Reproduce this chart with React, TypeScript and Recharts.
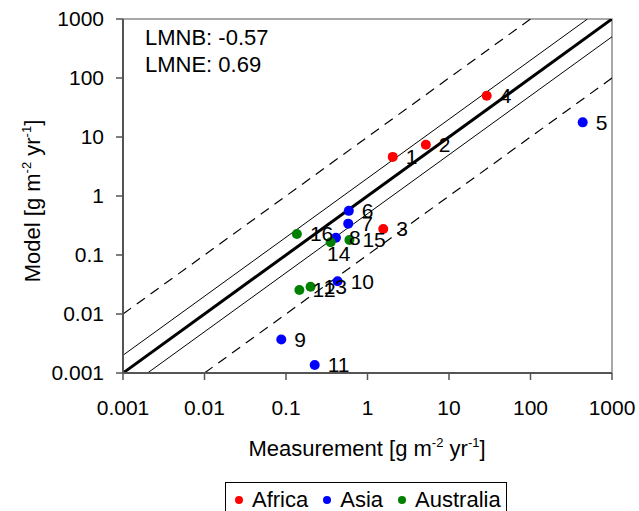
import { ScatterChart, Scatter, XAxis, YAxis, ReferenceLine, ReferenceArea, LabelList, Customized } from "recharts";

const ids = [1, 2, 3, 4, 5, 6, 7, 8, 9, 10, 11, 12, 13, 14, 15, 16];
const measured = [2.04, 5.2, 1.56, 29, 437, 0.59, 0.58, 0.41, 0.0875, 0.43, 0.225, 0.146, 0.2, 0.353, 0.6, 0.136];
const modelled = [4.6, 7.4, 0.276, 50, 17.7, 0.56, 0.34, 0.196, 0.0037, 0.036, 0.00137, 0.0255, 0.029, 0.164, 0.18, 0.227];
const regions = ["Africa", "Africa", "Africa", "Africa", "Asia", "Asia", "Asia", "Asia", "Asia", "Asia", "Asia",
  "Australia", "Australia", "Australia", "Australia", "Australia"];
// point labels drawn under the dot instead of to its right
const labelsBelow = [14];

const groups = ["Africa", "Asia", "Australia"];
const groupColors = ["#ff0000", "#0000ff", "#008000"];

const axisTicks = [0.001, 0.01, 0.1, 1, 10, 100, 1000];
const domainMin = 0.001;
const domainMax = 1000;

// 1:1 line, factor-of-2 lines (thin), factor-of-10 lines (dashed)
const factors = [
  { f: 1, width: 3, dash: "" },
  { f: 2, width: 1, dash: "" },
  { f: 10, width: 1.2, dash: "10 7" },
];

const stats = ["LMNB: -0.57", "LMNE: 0.69"];

const FONT = "'Liberation Sans', Arial, sans-serif";

const points = ids.map((id, i) => ({ id, x: measured[i], y: modelled[i], region: regions[i] }));

function segmentsFor(f: number) {
  if (f === 1) return [[{ x: domainMin, y: domainMin }, { x: domainMax, y: domainMax }]];
  return [
    [{ x: domainMin, y: domainMin * f }, { x: domainMax / f, y: domainMax }],
    [{ x: domainMin * f, y: domainMin }, { x: domainMax, y: domainMax / f }],
  ];
}

const Dot = (props: any) => <circle cx={props.cx} cy={props.cy} r={5} fill={props.fill} />;

const PointLabel = (props: any) => {
  const { x, y, width, height, value } = props;
  const cx = x + width / 2;
  const cy = y + height / 2;
  if (labelsBelow.includes(value)) {
    return (
      <text x={cx + 8} y={cy + 19} textAnchor="middle" fontSize={21} fontFamily={FONT} fill="#000">
        {value}
      </text>
    );
  }
  return (
    <text x={cx + 13} y={cy} dy="0.355em" fontSize={21} fontFamily={FONT} fill="#000">
      {value}
    </text>
  );
};

const Unit = () => (
  <>
    [g m<tspan dy={-9} fontSize={13}>-2</tspan>
    <tspan dy={9}> yr</tspan>
    <tspan dy={-9} fontSize={13}>-1</tspan>
    <tspan dy={9}>]</tspan>
  </>
);

function Titles() {
  return (
    <g fontFamily={FONT} fontSize={22} fill="#000">
      {stats.map((s, i) => (
        <text key={s} x={145} y={45 + i * 27}>{s}</text>
      ))}
      <text x={367} y={456} textAnchor="middle">
        Measurement <Unit />
      </text>
      <text x={40} y={201} textAnchor="middle" transform="rotate(-90 40 201)">
        Model <Unit />
      </text>
    </g>
  );
}

export default function App() {
  return (
    <div style={{ position: "absolute", left: 0, top: 0, width: 639, height: 511, background: "#fff", fontFamily: FONT }}>
      <ScatterChart width={639} height={511} margin={{ top: 19, right: 27, bottom: 0, left: 0 }}>
        <ReferenceArea x1={domainMin} x2={domainMax} y1={domainMin} y2={domainMax} fill="none" stroke="#8c8c8c" strokeWidth={1.5} />
        <XAxis
          type="number"
          dataKey="x"
          scale="log"
          domain={[domainMin, domainMax]}
          ticks={axisTicks}
          tickFormatter={(v: number) => String(v)}
          height={138}
          tickSize={7}
          tickMargin={20}
          tick={{ fill: "#000", fontSize: 21, fontFamily: FONT }}
          axisLine={{ stroke: "#555", strokeWidth: 2 }}
          tickLine={{ stroke: "#555", strokeWidth: 1.5 }}
          allowDataOverflow
        />
        <YAxis
          type="number"
          dataKey="y"
          scale="log"
          domain={[domainMin, domainMax]}
          ticks={axisTicks}
          tickFormatter={(v: number) => String(v)}
          width={123}
          tickSize={7}
          tickMargin={12}
          tick={{ fill: "#000", fontSize: 21, fontFamily: FONT }}
          axisLine={{ stroke: "#555", strokeWidth: 2 }}
          tickLine={{ stroke: "#555", strokeWidth: 1.5 }}
          allowDataOverflow
        />
        {factors.flatMap((fc) =>
          segmentsFor(fc.f).map((seg, j) => (
            <ReferenceLine
              key={`${fc.f}-${j}`}
              segment={seg}
              stroke="#000"
              strokeWidth={fc.width}
              strokeDasharray={fc.dash || undefined}
              ifOverflow="hidden"
            />
          ))
        )}
        {groups.map((g, gi) => (
          <Scatter
            key={g}
            name={g}
            data={points.filter((p) => p.region === g)}
            fill={groupColors[gi]}
            shape={Dot}
            isAnimationActive={false}
          >
            <LabelList dataKey="id" content={PointLabel} />
          </Scatter>
        ))}
        <Customized component={<Titles />} />
      </ScatterChart>
      <div
        style={{
          position: "absolute",
          left: 225,
          top: 482,
          width: 282,
          height: 36,
          border: "1px solid #000",
          boxSizing: "border-box",
          display: "flex",
          alignItems: "center",
          paddingLeft: 9,
          fontSize: 22,
          color: "#000",
        }}
      >
        {groups.map((g, gi) => (
          <div key={g} style={{ display: "flex", alignItems: "center", marginRight: 15 }}>
            <span style={{ width: 8, height: 8, borderRadius: "50%", background: groupColors[gi], display: "inline-block", marginRight: 9 }} />
            <span>{g}</span>
          </div>
        ))}
      </div>
    </div>
  );
}
